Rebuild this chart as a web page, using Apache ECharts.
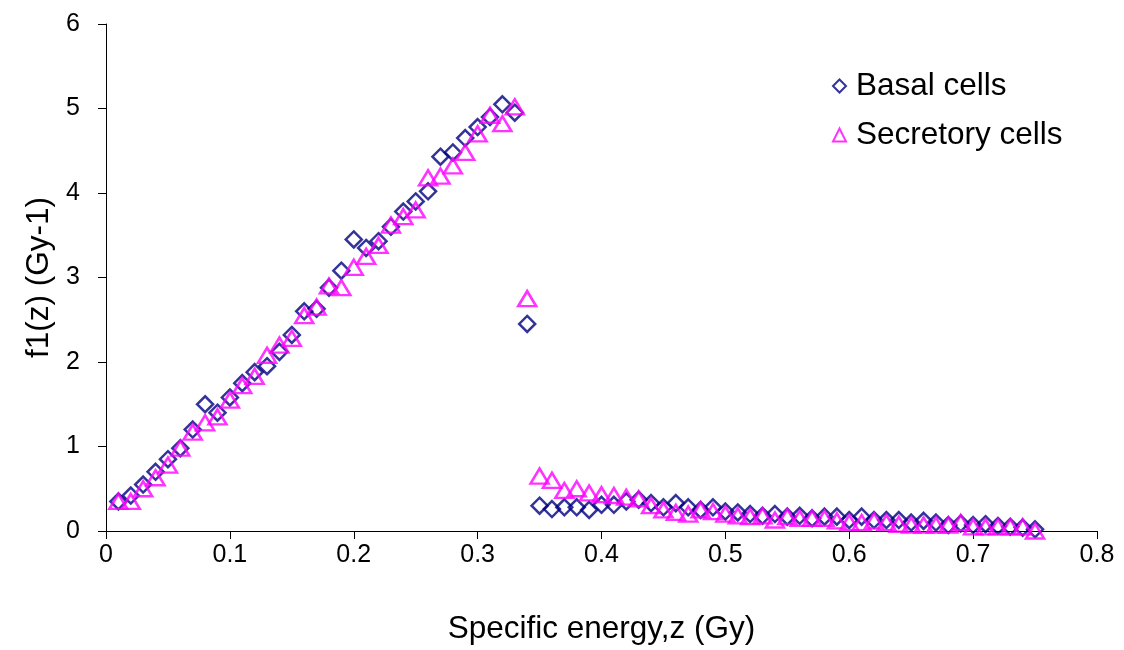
<!DOCTYPE html>
<html>
<head>
<meta charset="utf-8">
<script src="https://cdn.jsdelivr.net/npm/echarts@6/dist/echarts.min.js"></script>
<style>html,body{margin:0;padding:0;background:#fff;}#c{width:1124px;height:650px;}</style>
</head>
<body>
<div id="c"></div>
<script>
const zValues = [0.01,0.02,0.03,0.04,0.05,0.06,0.07,0.08,0.09,0.10,0.11,0.12,0.13,0.14,0.15,0.16,0.17,0.18,0.19,0.20,0.21,0.22,0.23,0.24,0.25,0.26,0.27,0.28,0.29,0.30,0.31,0.32,0.33,0.34,0.35,0.36,0.37,0.38,0.39,0.40,0.41,0.42,0.43,0.44,0.45,0.46,0.47,0.48,0.49,0.50,0.51,0.52,0.53,0.54,0.55,0.56,0.57,0.58,0.59,0.60,0.61,0.62,0.63,0.64,0.65,0.66,0.67,0.68,0.69,0.70,0.71,0.72,0.73,0.74,0.75];
const basalCells = [0.35,0.42,0.55,0.70,0.85,0.98,1.20,1.50,1.40,1.58,1.75,1.88,1.95,2.12,2.32,2.60,2.63,2.88,3.08,3.45,3.35,3.43,3.60,3.78,3.90,4.02,4.43,4.48,4.65,4.78,4.90,5.05,4.95,2.45,0.30,0.26,0.28,0.28,0.25,0.31,0.31,0.35,0.37,0.33,0.28,0.33,0.28,0.25,0.28,0.23,0.22,0.20,0.18,0.20,0.17,0.18,0.15,0.17,0.17,0.13,0.17,0.13,0.13,0.13,0.10,0.12,0.10,0.07,0.09,0.07,0.08,0.06,0.05,0.04,0.02];
const secretoryCells = [0.35,0.35,0.50,0.63,0.78,0.98,1.17,1.28,1.35,1.55,1.72,1.83,2.08,2.20,2.28,2.55,2.65,2.90,2.88,3.12,3.25,3.38,3.62,3.72,3.80,4.18,4.20,4.32,4.48,4.70,4.92,4.82,5.02,2.75,0.65,0.60,0.48,0.50,0.45,0.43,0.42,0.40,0.38,0.30,0.25,0.22,0.20,0.25,0.23,0.20,0.18,0.17,0.18,0.13,0.17,0.15,0.15,0.15,0.12,0.10,0.10,0.12,0.10,0.08,0.07,0.07,0.07,0.07,0.10,0.05,0.05,0.05,0.05,0.05,0.00];
const seriesNames = ['Basal cells','Secretory cells'];
const xTitle = 'Specific energy,z (Gy)';
const yTitle = 'f1(z) (Gy-1)';

const font = 'Liberation Sans, Arial, sans-serif';
const chart = echarts.init(document.getElementById('c'), null, {renderer:'canvas'});
chart.setOption({
  animation:false,
  backgroundColor:'#fff',
  grid:{left:106,right:27,top:24,bottom:118,containLabel:false},
  legend:{
    orient:'vertical', left:827, top:65, itemGap:17,
    itemWidth:13, itemHeight:13,
    textStyle:{fontFamily:font,fontSize:31.5,color:'#000',padding:[0,0,0,5]},
    data:seriesNames
  },
  xAxis:{
    type:'value', min:0, max:0.8, interval:0.1,
    name:xTitle, nameLocation:'middle', nameGap:82,
    nameTextStyle:{fontFamily:font,fontSize:31.5,color:'#000'},
    axisLine:{lineStyle:{color:'#000',width:1}},
    axisTick:{show:true,inside:false,length:8,lineStyle:{color:'#000'}},
    axisLabel:{fontFamily:font,fontSize:25,color:'#000',margin:12,formatter:v=>v===0?'0':String(+v.toFixed(1))},
    splitLine:{show:false}
  },
  yAxis:{
    type:'value', min:0, max:6, interval:1,
    name:yTitle, nameLocation:'middle', nameGap:50, nameRotate:90,
    nameTextStyle:{fontFamily:font,fontSize:31.5,color:'#000'},
    axisLine:{show:true,lineStyle:{color:'#000',width:1}},
    axisTick:{show:true,inside:false,length:8,lineStyle:{color:'#000'}},
    axisLabel:{fontFamily:font,fontSize:25,color:'#000',margin:26},
    splitLine:{show:false}
  },
  series:[
    {
      name:seriesNames[0], type:'scatter', symbol:'diamond', symbolSize:[16,16],
      itemStyle:{color:'rgba(255,255,255,0)',borderColor:'#000080',borderWidth:2.5},
      data:zValues.map((z,i)=>[z,basalCells[i]])
    },
    {
      name:seriesNames[1], type:'scatter', symbol:'triangle', symbolSize:[18,15],
      itemStyle:{color:'rgba(255,255,255,0)',borderColor:'#FF00FF',borderWidth:2.5},
      data:zValues.map((z,i)=>[z,secretoryCells[i]])
    }
  ]
});
</script>
</body>
</html>
